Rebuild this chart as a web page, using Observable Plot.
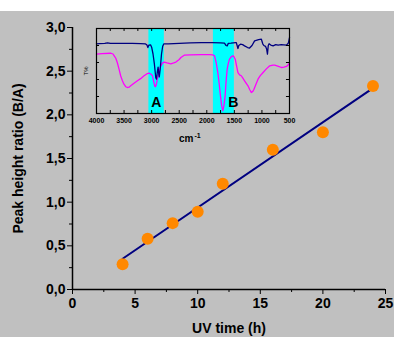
<!DOCTYPE html>
<html><head><meta charset="utf-8">
<script src="https://cdn.jsdelivr.net/npm/d3@7"></script>
<script src="https://cdn.jsdelivr.net/npm/@observablehq/plot@0.6"></script>
<style>
html,body{margin:0;padding:0;background:#fff;}
#wrap{position:relative;width:394px;height:326px;margin-top:11px;}
#wrap svg{position:absolute;left:0;top:0;}
</style></head><body><div id="wrap"></div>
<script>
// Main chart data
const uvTime = [4, 6, 8, 10, 12, 16, 20, 24];
const peakRatio = [0.29, 0.58, 0.76, 0.89, 1.21, 1.60, 1.80, 2.33];
const xTicks = [0, 5, 10, 15, 20, 25];
const xMinor = [2.5, 7.5, 12.5, 17.5, 22.5];
const yTicks = [0, 0.5, 1, 1.5, 2, 2.5, 3];
const yMinor = [0.25, 0.75, 1.25, 1.75, 2.25, 2.75];
const xTitle = "UV time (h)";
const yTitle = "Peak height ratio (B/A)";

// Inset FTIR spectra
const wnBlue = [4000,3950,3850,3800,3750,3650,3500,3350,3200,3110,3085,3068,3050,3020,3000,2975,2950,2925,2912,2895,2883,2870,2862,2845,2821,2800,2780,2700,2500,2300,2100,1900,1750,1680,1650,1630,1610,1560,1480,1466,1450,1435,1420,1388,1350,1315,1260,1224,1180,1133,1060,1010,985,965,935,915,900,885,870,840,797,750,706,650,555,520,500];
const tBlue  = [81.8,82.2,82.4,83.2,82.4,82.6,82.4,82.6,82.2,81.8,80.5,77.5,80.5,80.8,78,70,58,42,40.5,50,54.5,46,43,52,70,79,81.8,82,82.6,83,83.5,83.5,83,82.7,80,79.5,82.5,82.7,83.5,83.5,80,76.5,80,81.5,81,79.6,77.6,77,80,85.5,87,87.4,82,80,79,76,69.8,80,82,80.5,79.6,81,80.4,81,80.4,83,89.4];
const wnMagenta = [4000,3900,3745,3700,3685,3650,3623,3590,3562,3530,3502,3470,3440,3410,3380,3320,3258,3200,3138,3090,3047,3015,2985,2960,2943,2930,2915,2894,2860,2833,2800,2773,2720,2651,2600,2560,2500,2469,2409,2300,2104,1950,1891,1860,1830,1800,1775,1752,1730,1709,1690,1667,1650,1630,1610,1588,1555,1526,1505,1484,1460,1435,1405,1375,1345,1315,1284,1253,1220,1193,1165,1144,1110,1071,1030,979,920,859,800,768,700,646,600,555,513,500];
const tMagenta  = [69.8,70.5,70.9,70,68.5,65,60,52,44.4,38.5,34.5,31.5,30.6,31,32.6,35.5,38.5,41,44.4,46.5,47.4,46.5,44.4,37,32,31.5,34,41.2,50,56,59.5,60.5,59.5,58.5,59.5,60.5,63.5,65.9,68.6,69,69.2,69.2,69,67.9,60,48.2,35,20.8,9,3.1,9,20.8,38,52.1,59,63.9,67,67.9,66.5,63.9,56,48.2,45.5,44.4,41.5,38.5,35.5,32.6,28,24.7,26,28.6,34,40.4,44.5,48.2,52.5,56.1,57,56.9,55.5,54.1,54.5,55.3,57.9,60];
const bandLabels = ["A", "B"];
const bandFrom = [3050, 1880];
const bandTo = [2770, 1500];
const bandLabelWn = [2915, 1521];
const insetXLabels = [4000, 3500, 3000, 2500, 2000, 1500, 1000, 500];
const insetXTicks = d3.range(4000, 499, -250);
const insetYTicks = [0, 20, 40, 60, 80, 100];

const font = "'Liberation Sans', Arial, Helvetica, sans-serif";
const points = uvTime.map((x, i) => ({x, y: peakRatio[i]}));
const blue = wnBlue.map((w, i) => ({w, t: tBlue[i]}));
const magenta = wnMagenta.map((w, i) => ({w, t: tMagenta[i]}));
const bands = bandFrom.map((f, i) => ({from: f, to: bandTo[i]}));

const main = Plot.plot({
  width: 394, height: 326,
  marginLeft: 72, marginRight: 9, marginTop: 16, marginBottom: 48,
  style: {background: "#c0c0c0", fontFamily: font, color: "black", overflow: "visible"},
  x: {domain: [0, 25]},
  y: {domain: [0, 3]},
  marks: [
    Plot.axisX({ticks: xMinor, tickSize: 3, tickFormat: () => "", label: null}),
    Plot.axisX({ticks: xTicks, tickSize: 5, tickPadding: 4, fontSize: 14, fontWeight: "bold", label: null}),
    Plot.axisY({ticks: yMinor, tickSize: 3, tickFormat: () => "", label: null}),
    Plot.axisY({ticks: yTicks, tickSize: 5, tickPadding: 2, tickFormat: d => d.toFixed(1).replace(".", ","), fontSize: 14, fontWeight: "bold", label: null}),
    Plot.ruleX([0], {stroke: "black", strokeWidth: 1.5}),
    Plot.ruleY([0], {stroke: "black", strokeWidth: 1.5}),
    Plot.text([xTitle], {text: d => d, frameAnchor: "bottom", dy: 39.5, textAnchor: "middle", lineAnchor: "middle", fontSize: 14, fontWeight: "bold"}),
    Plot.text([yTitle], {text: d => d, frameAnchor: "left", dx: -53.5, rotate: -90, textAnchor: "middle", lineAnchor: "middle", fontSize: 14, fontWeight: "bold"}),
    Plot.linearRegressionY(points, {x: "x", y: "y", ci: 0, stroke: "#000080", strokeWidth: 2}),
    Plot.dot(points, {x: "x", y: "y", r: 6, fill: "#ff8800"})
  ]
});

const inset = Plot.plot({
  width: 394, height: 326,
  marginLeft: 96, marginRight: 105, marginTop: 17, marginBottom: 224,
  style: {background: "transparent", fontFamily: font, color: "black", overflow: "visible"},
  x: {domain: [4000, 500], axis: null},
  y: {domain: [0, 100], axis: null},
  marks: [
    Plot.rect(bands, {x1: "from", x2: "to", y1: 0, y2: 100, fill: "#00ffff"}),
    Plot.line(magenta, {x: "w", y: "t", stroke: "#ff00ff", strokeWidth: 1.3}),
    Plot.line(blue, {x: "w", y: "t", stroke: "#000080", strokeWidth: 1.3}),
    Plot.frame({stroke: "black", strokeWidth: 1.2}),
    Plot.ruleX(insetXTicks, {x: d => d, y1: 0, y2: 3.5, stroke: "black"}),
    Plot.ruleX(insetXTicks, {x: d => d, y1: 100, y2: 96.5, stroke: "black"}),
    Plot.ruleY(insetYTicks, {y: d => d, x1: 4000, x2: 3945, stroke: "black"}),
    Plot.ruleY(insetYTicks, {y: d => d, x1: 500, x2: 555, stroke: "black"}),
    Plot.axisX({ticks: insetXLabels, tickSize: 0, tickPadding: 4.5, tickFormat: d => String(d), fontSize: 7, fontWeight: "bold", label: null}),
    Plot.text(bandLabels, {x: (d, i) => bandLabelWn[i], y: 13, text: d => d, lineAnchor: "middle", fontSize: 14, fontWeight: "bold", fill: "black"}),
    Plot.text(["cm"], {text: d => d, frameAnchor: "bottom", dx: 0.5, dy: 28.5, textAnchor: "end", lineAnchor: "bottom", fontSize: 10, fontWeight: "bold"}),
    Plot.text(["-1"], {text: d => d, frameAnchor: "bottom", dx: 1.5, dy: 24, textAnchor: "start", lineAnchor: "bottom", fontSize: 7, fontWeight: "bold"}),
    Plot.text(["T%"], {text: d => d, frameAnchor: "left", dx: -10, rotate: -90, textAnchor: "middle", lineAnchor: "middle", fontSize: 6})
  ]
});

const wrap = document.getElementById("wrap");
wrap.appendChild(main);
wrap.appendChild(inset);
</script></body></html>
